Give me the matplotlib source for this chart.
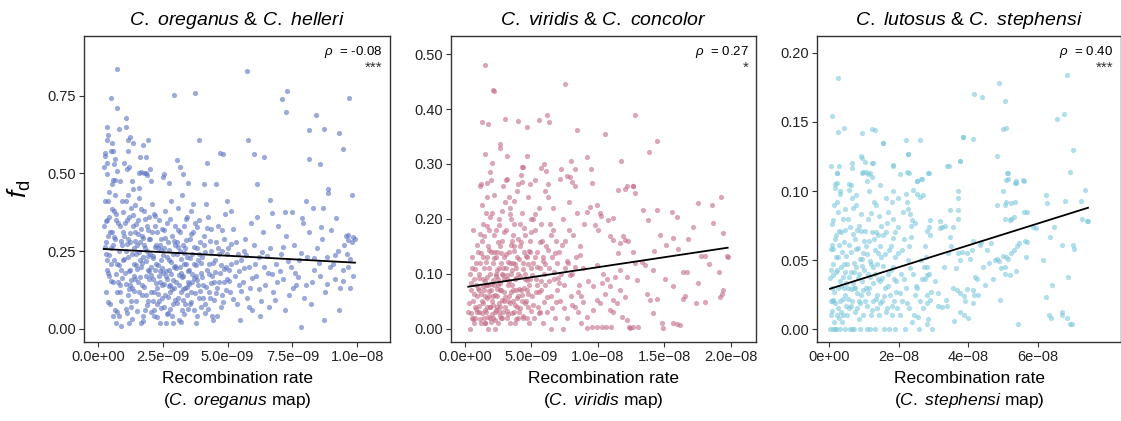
import matplotlib
matplotlib.use("Agg")
import matplotlib.pyplot as plt
import numpy as np

plt.rcParams['font.family'] = ['Liberation Sans', 'DejaVu Sans']
plt.rcParams['mathtext.fontset'] = 'custom'
plt.rcParams['mathtext.rm'] = 'Liberation Sans'
plt.rcParams['mathtext.it'] = 'Liberation Sans:italic'
plt.rcParams['mathtext.bf'] = 'Liberation Sans:bold'

# ---- panel 1: C. oreganus & C. helleri (x in 1e-9) ----
oreg_pts = [
    (0.73, 0.834), (5.75, 0.828), (0.52, 0.742), (2.95, 0.751), (3.75, 0.759), (7.30, 0.765),
    (7.10, 0.738), (9.69, 0.741), (0.73, 0.711), (7.25, 0.697), (1.08, 0.679), (8.42, 0.688),
    (0.36, 0.649), (1.08, 0.649), (0.82, 0.643), (8.13, 0.640), (8.73, 0.641), (9.28, 0.631),
    (0.40, 0.622), (1.24, 0.616), (1.16, 0.607), (0.37, 0.606), (1.94, 0.607), (1.37, 0.599),
    (3.89, 0.607), (5.80, 0.606), (0.55, 0.597), (1.76, 0.592), (9.44, 0.577), (0.50, 0.571),
    (0.60, 0.571), (1.16, 0.571), (0.29, 0.565), (4.71, 0.565), (4.81, 0.561), (6.03, 0.562),
    (6.39, 0.554), (1.64, 0.552), (1.85, 0.551), (0.29, 0.556), (0.67, 0.545), (8.13, 0.547),
    (3.05, 0.543), (4.22, 0.534), (0.35, 0.532), (1.00, 0.532), (8.56, 0.530), (0.63, 0.530),
    (1.21, 0.522), (0.23, 0.522), (3.17, 0.521), (1.13, 0.513), (2.01, 0.513), (0.76, 0.509),
    (1.60, 0.502), (1.67, 0.504), (1.80, 0.501), (0.36, 0.497), (1.86, 0.500), (1.90, 0.495),
    (2.57, 0.499), (2.53, 0.487), (3.30, 0.499), (0.57, 0.478), (0.66, 0.479), (0.85, 0.477),
    (1.32, 0.476), (2.06, 0.477), (2.75, 0.468), (3.47, 0.469), (4.11, 0.465), (4.55, 0.465),
    (6.12, 0.465), (8.88, 0.449), (9.78, 0.431), (8.88, 0.436), (8.02, 0.412), (6.64, 0.415),
    (4.97, 0.412), (8.30, 0.388), (8.67, 0.388), (9.17, 0.356), (7.86, 0.355), (7.20, 0.377),
    (7.50, 0.377), (6.70, 0.372), (8.59, 0.327), (9.65, 0.302), (9.85, 0.295), (9.50, 0.270),
    (9.65, 0.286), (9.00, 0.318),
    (0.25, 0.33), (0.30, 0.28), (0.35, 0.22), (0.40, 0.18), (0.28, 0.41), (0.45, 0.36),
    (0.50, 0.26), (0.55, 0.31), (0.60, 0.15), (0.33, 0.12), (0.42, 0.44), (0.48, 0.08),
    (0.58, 0.04), (0.52, 0.21), (0.38, 0.30), (0.62, 0.38), (0.30, 0.24), (0.45, 0.17),
    (0.57, 0.27), (0.36, 0.35), (0.65, 0.06), (0.70, 0.02), (0.75, 0.12), (0.80, 0.25),
    (0.85, 0.33), (0.90, 0.19), (0.95, 0.41), (0.68, 0.29), (0.72, 0.37), (0.78, 0.15),
    (0.88, 0.09), (0.92, 0.27), (0.98, 0.22), (0.66, 0.43), (0.82, 0.04), (0.96, 0.31),
    (0.74, 0.21), (0.86, 0.14), (0.70, 0.35), (0.90, 0.01),
    (1.02, 0.30), (1.05, 0.18), (1.10, 0.25), (1.15, 0.11), (1.20, 0.36), (1.25, 0.28),
    (1.30, 0.07), (1.35, 0.33), (1.40, 0.21), (1.45, 0.16), (1.08, 0.41), (1.12, 0.05),
    (1.18, 0.23), (1.22, 0.02), (1.28, 0.39), (1.32, 0.13), (1.38, 0.26), (1.42, 0.31),
    (1.48, 0.09), (1.04, 0.34), (1.16, 0.29), (1.26, 0.19), (1.36, 0.45), (1.46, 0.24),
    (1.24, 0.14),
    (1.52, 0.27), (1.55, 0.35), (1.60, 0.12), (1.65, 0.20), (1.70, 0.30), (1.75, 0.04),
    (1.80, 0.38), (1.85, 0.17), (1.90, 0.25), (1.95, 0.09), (1.58, 0.42), (1.62, 0.22),
    (1.68, 0.32), (1.72, 0.14), (1.78, 0.27), (1.82, 0.06), (1.88, 0.33), (1.92, 0.19),
    (1.98, 0.29), (1.54, 0.15), (1.66, 0.02), (1.76, 0.23), (1.86, 0.11), (1.96, 0.36),
    (1.64, 0.28),
    (2.02, 0.24), (2.05, 0.12), (2.10, 0.31), (2.15, 0.04), (2.20, 0.19), (2.25, 0.27),
    (2.30, 0.08), (2.35, 0.35), (2.40, 0.15), (2.45, 0.22), (2.08, 0.40), (2.12, 0.16),
    (2.18, 0.06), (2.22, 0.33), (2.28, 0.13), (2.32, 0.26), (2.38, 0.02), (2.42, 0.29),
    (2.48, 0.10), (2.04, 0.20), (2.16, 0.37), (2.26, 0.21), (2.36, 0.17), (2.46, 0.32),
    (2.14, 0.09),
    (2.52, 0.18), (2.55, 0.26), (2.60, 0.11), (2.65, 0.34), (2.70, 0.05), (2.75, 0.22),
    (2.80, 0.14), (2.85, 0.30), (2.90, 0.08), (2.95, 0.20), (2.58, 0.38), (2.62, 0.02),
    (2.68, 0.16), (2.72, 0.28), (2.78, 0.12), (2.82, 0.41), (2.88, 0.24), (2.92, 0.13),
    (2.98, 0.33), (2.54, 0.07), (2.66, 0.23), (2.76, 0.19), (2.86, 0.04), (2.96, 0.27),
    (3.02, 0.15), (3.05, 0.24), (3.10, 0.10), (3.15, 0.31), (3.20, 0.18), (3.25, 0.06),
    (3.30, 0.27), (3.35, 0.13), (3.40, 0.21), (3.45, 0.36), (3.08, 0.39), (3.12, 0.03),
    (3.18, 0.25), (3.22, 0.12), (3.28, 0.17), (3.32, 0.33), (3.38, 0.08), (3.42, 0.23),
    (3.48, 0.15), (3.04, 0.28), (3.16, 0.20), (3.26, 0.43), (3.36, 0.26),
    (3.52, 0.19), (3.55, 0.29), (3.60, 0.12), (3.65, 0.24), (3.70, 0.06), (3.75, 0.34),
    (3.80, 0.17), (3.85, 0.22), (3.90, 0.10), (3.95, 0.28), (3.58, 0.38), (3.62, 0.15),
    (3.68, 0.31), (3.72, 0.21), (3.78, 0.02), (3.82, 0.26), (3.88, 0.14), (3.92, 0.35),
    (3.98, 0.18), (3.56, 0.08), (3.66, 0.40),
    (4.02, 0.23), (4.05, 0.14), (4.10, 0.30), (4.15, 0.08), (4.20, 0.19), (4.25, 0.36),
    (4.30, 0.12), (4.35, 0.25), (4.40, 0.17), (4.45, 0.03), (4.08, 0.27), (4.18, 0.40),
    (4.28, 0.21), (4.38, 0.32), (4.48, 0.15), (4.12, 0.05), (4.32, 0.10),
    (4.52, 0.22), (4.55, 0.28), (4.60, 0.13), (4.65, 0.33), (4.70, 0.18), (4.75, 0.07),
    (4.80, 0.25), (4.85, 0.15), (4.90, 0.37), (4.95, 0.20), (4.58, 0.04), (4.68, 0.24),
    (4.78, 0.11), (4.88, 0.29), (4.98, 0.16),
    (5.02, 0.26), (5.08, 0.12), (5.15, 0.21), (5.20, 0.32), (5.28, 0.17), (5.35, 0.08),
    (5.40, 0.24), (5.45, 0.14), (5.12, 0.38), (5.32, 0.28), (5.48, 0.03), (5.05, 0.19),
    (5.52, 0.22), (5.60, 0.15), (5.68, 0.29), (5.75, 0.10), (5.82, 0.20), (5.90, 0.34),
    (5.95, 0.06), (5.65, 0.25), (5.85, 0.13),
    (6.02, 0.27), (6.10, 0.17), (6.20, 0.23), (6.30, 0.09), (6.38, 0.31), (6.45, 0.14),
    (6.15, 0.36), (6.25, 0.04), (6.42, 0.20),
    (6.55, 0.18), (6.65, 0.26), (6.75, 0.12), (6.85, 0.21), (6.95, 0.33), (6.60, 0.07),
    (6.90, 0.15), (7.05, 0.24), (7.15, 0.16), (7.25, 0.30), (7.35, 0.11), (7.45, 0.20),
    (7.20, 0.06), (7.55, 0.27), (7.65, 0.14), (7.75, 0.22), (7.85, 0.005), (7.90, 0.34),
    (7.60, 0.18), (7.95, 0.10), (8.05, 0.23), (8.15, 0.31), (8.25, 0.15), (8.35, 0.19),
    (8.45, 0.26), (8.20, 0.08), (8.55, 0.17), (8.65, 0.29), (8.75, 0.12), (8.85, 0.23),
    (8.95, 0.20), (8.70, 0.03), (9.05, 0.21), (9.15, 0.16), (9.25, 0.25), (9.35, 0.13),
    (9.45, 0.19), (9.30, 0.06), (9.55, 0.30), (9.60, 0.24), (9.70, 0.13), (9.78, 0.28),
    (9.85, 0.17), (9.65, 0.20), (9.91, 0.29),
]
oreg_dense = [
    (0.27, 0.263), (0.31, 0.347), (0.34, 0.191), (0.39, 0.087), (0.43, 0.238), (0.47, 0.312),
    (0.51, 0.154), (0.56, 0.386), (0.61, 0.223), (0.64, 0.297), (0.69, 0.178), (0.73, 0.054),
    (0.77, 0.341), (0.81, 0.207), (0.84, 0.118), (0.89, 0.284), (0.93, 0.163), (0.97, 0.376),
    (0.41, 0.412), (0.53, 0.467),
    (1.03, 0.226), (1.07, 0.143), (1.11, 0.351), (1.14, 0.274), (1.19, 0.187), (1.23, 0.308),
    (1.27, 0.091), (1.31, 0.242), (1.34, 0.367), (1.39, 0.171), (1.43, 0.283), (1.47, 0.204),
    (1.09, 0.064), (1.21, 0.127), (1.33, 0.033), (1.44, 0.398), (1.17, 0.431), (1.29, 0.156),
    (1.41, 0.121), (1.49, 0.338),
    (1.51, 0.193), (1.56, 0.306), (1.59, 0.247), (1.63, 0.168), (1.67, 0.384), (1.71, 0.213),
    (1.74, 0.292), (1.79, 0.134), (1.83, 0.259), (1.87, 0.217), (1.91, 0.078), (1.94, 0.318),
    (1.97, 0.162), (1.53, 0.057), (1.69, 0.108), (1.81, 0.353), (1.93, 0.234), (1.57, 0.452),
    (1.73, 0.026), (1.99, 0.186),
    (2.03, 0.288), (2.07, 0.173), (2.11, 0.236), (2.17, 0.119), (2.21, 0.264), (2.24, 0.147),
    (2.29, 0.313), (2.33, 0.206), (2.37, 0.089), (2.41, 0.187), (2.44, 0.253), (2.47, 0.141),
    (2.06, 0.054), (2.19, 0.364), (2.27, 0.037), (2.39, 0.271), (2.49, 0.196), (2.13, 0.228),
    (2.34, 0.113), (2.43, 0.066),
    (2.51, 0.237), (2.56, 0.146), (2.61, 0.291), (2.64, 0.187), (2.69, 0.102), (2.73, 0.253),
    (2.77, 0.064), (2.81, 0.178), (2.84, 0.216), (2.89, 0.157), (2.93, 0.283), (2.97, 0.094),
    (2.57, 0.317), (2.67, 0.047), (2.79, 0.352), (2.87, 0.128), (2.99, 0.201), (2.63, 0.169),
    (2.74, 0.137), (2.91, 0.018),
    (3.03, 0.197), (3.07, 0.083), (3.11, 0.262), (3.14, 0.141), (3.19, 0.226), (3.23, 0.167),
    (3.27, 0.094), (3.31, 0.208), (3.34, 0.048), (3.39, 0.287), (3.43, 0.134), (3.47, 0.186),
    (3.09, 0.318), (3.21, 0.021), (3.33, 0.243), (3.44, 0.109), (3.13, 0.172), (3.29, 0.129),
    (3.41, 0.353), (3.49, 0.064),
    (3.53, 0.143), (3.57, 0.227), (3.61, 0.088), (3.64, 0.178), (3.69, 0.262), (3.73, 0.117),
    (3.77, 0.204), (3.81, 0.043), (3.84, 0.156), (3.89, 0.241), (3.93, 0.123), (3.97, 0.071),
    (3.59, 0.306), (3.71, 0.163), (3.83, 0.329), (3.96, 0.211),
    (4.03, 0.168), (4.07, 0.098), (4.13, 0.247), (4.17, 0.134), (4.23, 0.063), (4.27, 0.176),
    (4.33, 0.284), (4.37, 0.147), (4.43, 0.213), (4.47, 0.092), (4.22, 0.326), (4.41, 0.043),
    (4.53, 0.183), (4.57, 0.114), (4.63, 0.261), (4.67, 0.152), (4.73, 0.207), (4.77, 0.318),
    (4.83, 0.087), (4.87, 0.193), (4.93, 0.126), (4.97, 0.241),
    (5.04, 0.153), (5.13, 0.273), (5.23, 0.096), (5.33, 0.214), (5.43, 0.186), (5.53, 0.122),
    (5.63, 0.196), (5.73, 0.237), (5.83, 0.071), (5.93, 0.164),
    (6.04, 0.208), (6.23, 0.128), (6.33, 0.247), (6.53, 0.233), (6.73, 0.178), (6.83, 0.094),
    (7.03, 0.187), (7.13, 0.262), (7.33, 0.218), (7.53, 0.132), (7.73, 0.167), (7.83, 0.243),
    (8.03, 0.142), (8.33, 0.227), (8.53, 0.212), (8.83, 0.146), (9.13, 0.237), (9.43, 0.153),
    (9.73, 0.224),
]

# ---- panel 2: C. viridis & C. concolor (x in 1e-9) ----
viri_pts = [
    (1.53, 0.480), (2.13, 0.434), (2.16, 0.433), (7.50, 0.445), (1.28, 0.376), (1.75, 0.372),
    (3.01, 0.381), (3.96, 0.379), (4.68, 0.368), (5.56, 0.380), (6.17, 0.390), (6.29, 0.376),
    (12.78, 0.390), (8.40, 0.361), (10.55, 0.355), (14.41, 0.341), (2.63, 0.336), (2.60, 0.329),
    (13.86, 0.322), (1.48, 0.318), (3.16, 0.314), (4.66, 0.315), (9.17, 0.313), (2.05, 0.302),
    (7.99, 0.306), (11.73, 0.306), (4.28, 0.295), (4.36, 0.294), (5.96, 0.300), (5.74, 0.293),
    (6.11, 0.287), (8.27, 0.290), (9.50, 0.290), (1.88, 0.285), (3.14, 0.272), (7.65, 0.278),
    (7.89, 0.276), (7.17, 0.273), (8.05, 0.268), (1.23, 0.264), (1.65, 0.266), (3.98, 0.264),
    (4.26, 0.267), (4.86, 0.264), (6.24, 0.264), (9.55, 0.265), (12.60, 0.260),
    (19.22, 0.240), (18.55, 0.225), (17.54, 0.229), (17.12, 0.186), (18.67, 0.193), (19.42, 0.175),
    (19.72, 0.132), (18.04, 0.132), (17.74, 0.132), (18.37, 0.117), (19.12, 0.104), (16.37, 0.104),
    (16.67, 0.104), (17.54, 0.083), (19.37, 0.070), (19.30, 0.064), (19.17, 0.058), (18.04, 0.049),
    (17.37, 0.047), (16.42, 0.055), (16.54, 0.060), (16.79, 0.163), (15.99, 0.146), (15.09, 0.152),
    (15.66, 0.165), (15.54, 0.213), (15.96, 0.203), (14.46, 0.216), (13.41, 0.216), (12.66, 0.259),
    (12.20, 0.259), (12.78, 0.247), (13.78, 0.198), (14.66, 0.171), (14.21, 0.142), (12.66, 0.140),
    (13.28, 0.122), (15.66, 0.077), (15.04, 0.090), (14.16, 0.107), (13.53, 0.116), (12.16, 0.095),
    (12.78, 0.119), (12.91, 0.089), (13.66, 0.064), (13.91, 0.052), (14.41, 0.055), (14.85, 0.010),
    (14.92, 0.001), (15.66, 0.010), (15.91, 0.008), (16.20, 0.007), (12.30, 0.003), (12.66, 0.004),
    (13.03, 0.003), (12.42, 0.002), (14.16, 0.028), (11.80, 0.022), (12.20, 0.016), (11.15, 0.031),
    (10.90, 0.034), (10.60, 0.003), (10.97, 0.003), (10.28, 0.003), (9.90, 0.003), (9.52, 0.003),
    (9.15, 0.002), (11.65, 0.070), (12.03, 0.058), (11.40, 0.046), (11.15, 0.052), (10.90, 0.077),
    (10.50, 0.064), (11.28, 0.095), (11.65, 0.107), (11.53, 0.137), (11.15, 0.162), (11.65, 0.156),
    (12.03, 0.162), (12.28, 0.159), (11.90, 0.168), (10.90, 0.168), (10.78, 0.198), (11.15, 0.201),
    (11.53, 0.253), (12.03, 0.254), (10.00, 0.180), (9.77, 0.189), (10.15, 0.210), (10.20, 0.206),
    (9.90, 0.225), (9.15, 0.213), (9.40, 0.221), (10.40, 0.100), (10.65, 0.090), (9.90, 0.116),
    (10.28, 0.083), (9.65, 0.077), (9.27, 0.086), (9.90, 0.052), (10.15, 0.046), (9.65, 0.034),
    (9.15, 0.022), (8.52, 0.031),
    (0.35, 0.00), (0.50, 0.02), (0.60, 0.05), (0.70, 0.09), (0.80, 0.12), (0.90, 0.03),
    (0.45, 0.07), (0.55, 0.11), (0.65, 0.01), (0.75, 0.04), (0.85, 0.08), (0.95, 0.14),
    (0.60, 0.18), (0.90, 0.06), (0.40, 0.10), (0.78, 0.02),
    (1.02, 0.03), (1.08, 0.07), (1.15, 0.12), (1.20, 0.01), (1.25, 0.05), (1.30, 0.16),
    (1.35, 0.09), (1.40, 0.02), (1.45, 0.11), (1.50, 0.06), (1.55, 0.21), (1.60, 0.03),
    (1.65, 0.13), (1.70, 0.08), (1.75, 0.00), (1.80, 0.18), (1.85, 0.04), (1.90, 0.10),
    (1.95, 0.14), (1.12, 0.26), (1.38, 0.13), (1.48, 0.01), (1.58, 0.08), (1.68, 0.04),
    (1.78, 0.11), (1.88, 0.02), (1.98, 0.07), (1.32, 0.19), (1.62, 0.24), (1.72, 0.15),
    (1.05, 0.10), (1.82, 0.06), (1.92, 0.27), (1.52, 0.01), (1.42, 0.07),
    (2.02, 0.05), (2.08, 0.12), (2.12, 0.02), (2.18, 0.08), (2.22, 0.17), (2.28, 0.03),
    (2.32, 0.10), (2.38, 0.06), (2.42, 0.14), (2.48, 0.01), (2.52, 0.09), (2.58, 0.20),
    (2.62, 0.04), (2.68, 0.12), (2.72, 0.07), (2.78, 0.16), (2.82, 0.02), (2.88, 0.11),
    (2.92, 0.05), (2.98, 0.23), (2.05, 0.21), (2.15, 0.14), (2.25, 0.00), (2.35, 0.18),
    (2.45, 0.08), (2.55, 0.03), (2.65, 0.15), (2.75, 0.10), (2.85, 0.26), (2.95, 0.09),
    (2.10, 0.06), (2.40, 0.04), (2.70, 0.02), (2.30, 0.13), (2.60, 0.07), (2.90, 0.13),
    (3.02, 0.04), (3.08, 0.11), (3.12, 0.18), (3.18, 0.02), (3.22, 0.08), (3.28, 0.14),
    (3.32, 0.06), (3.38, 0.22), (3.42, 0.01), (3.48, 0.10), (3.52, 0.16), (3.58, 0.05),
    (3.62, 0.12), (3.68, 0.03), (3.72, 0.19), (3.78, 0.09), (3.82, 0.07), (3.88, 0.13),
    (3.92, 0.25), (3.98, 0.02), (3.05, 0.27), (3.15, 0.09), (3.25, 0.05), (3.35, 0.12),
    (3.45, 0.20), (3.55, 0.08), (3.65, 0.15), (3.75, 0.01), (3.85, 0.11), (3.95, 0.06),
    (3.30, 0.24), (3.60, 0.17), (3.90, 0.04),
    (4.02, 0.10), (4.08, 0.03), (4.15, 0.15), (4.20, 0.07), (4.28, 0.21), (4.35, 0.12),
    (4.40, 0.02), (4.48, 0.09), (4.52, 0.17), (4.60, 0.05), (4.65, 0.13), (4.72, 0.24),
    (4.80, 0.08), (4.85, 0.01), (4.92, 0.14), (4.98, 0.11), (4.12, 0.19), (4.32, 0.05),
    (4.55, 0.10), (4.75, 0.04), (4.95, 0.20), (4.25, 0.28), (4.45, 0.14), (4.68, 0.07),
    (4.88, 0.16),
    (5.02, 0.06), (5.10, 0.12), (5.18, 0.02), (5.25, 0.18), (5.32, 0.09), (5.40, 0.14),
    (5.48, 0.04), (5.55, 0.22), (5.62, 0.11), (5.70, 0.07), (5.78, 0.16), (5.85, 0.01),
    (5.92, 0.10), (5.98, 0.25), (5.15, 0.20), (5.45, 0.08), (5.65, 0.03), (5.88, 0.13),
    (5.30, 0.27), (5.75, 0.19),
    (6.05, 0.08), (6.12, 0.15), (6.20, 0.03), (6.30, 0.11), (6.38, 0.19), (6.45, 0.06),
    (6.55, 0.13), (6.62, 0.22), (6.70, 0.09), (6.78, 0.02), (6.85, 0.16), (6.95, 0.12),
    (6.25, 0.24), (6.50, 0.00), (6.90, 0.07), (6.60, 0.18),
    (7.05, 0.14), (7.15, 0.05), (7.25, 0.10), (7.35, 0.20), (7.45, 0.08), (7.55, 0.16),
    (7.65, 0.02), (7.75, 0.12), (7.85, 0.23), (7.95, 0.06), (7.20, 0.29), (7.50, 0.11),
    (7.80, 0.18), (7.40, 0.00),
    (8.05, 0.10), (8.15, 0.17), (8.25, 0.04), (8.35, 0.13), (8.45, 0.21), (8.55, 0.08),
    (8.65, 0.15), (8.75, 0.01), (8.85, 0.11), (8.95, 0.19), (8.30, 0.26), (8.70, 0.06),
    (0.25, 0.03), (19.75, 0.13),
]
viri_dense = [
    (0.32, 0.046), (0.42, 0.083), (0.52, 0.131), (0.57, 0.017), (0.67, 0.063), (0.72, 0.108),
    (0.83, 0.036), (0.88, 0.152), (0.97, 0.074), (0.47, 0.028),
    (1.04, 0.041), (1.09, 0.093), (1.13, 0.018), (1.18, 0.064), (1.22, 0.137), (1.27, 0.029),
    (1.33, 0.077), (1.37, 0.047), (1.43, 0.168), (1.47, 0.087), (1.53, 0.034), (1.57, 0.121),
    (1.63, 0.056), (1.67, 0.094), (1.73, 0.022), (1.77, 0.069), (1.83, 0.143), (1.87, 0.039),
    (1.93, 0.082), (1.97, 0.013), (1.28, 0.226), (1.64, 0.187), (1.14, 0.173), (1.86, 0.204),
    (2.03, 0.027), (2.07, 0.088), (2.13, 0.043), (2.17, 0.129), (2.23, 0.061), (2.27, 0.016),
    (2.33, 0.096), (2.37, 0.034), (2.43, 0.072), (2.47, 0.157), (2.53, 0.047), (2.57, 0.111),
    (2.63, 0.023), (2.67, 0.083), (2.73, 0.138), (2.77, 0.052), (2.83, 0.097), (2.87, 0.031),
    (2.93, 0.176), (2.97, 0.066), (2.21, 0.243), (2.56, 0.188), (2.81, 0.214), (2.41, 0.107),
    (3.03, 0.058), (3.07, 0.136), (3.13, 0.033), (3.17, 0.097), (3.23, 0.122), (3.27, 0.026),
    (3.33, 0.087), (3.37, 0.047), (3.43, 0.153), (3.47, 0.067), (3.53, 0.028), (3.57, 0.106),
    (3.63, 0.071), (3.67, 0.141), (3.73, 0.043), (3.77, 0.118), (3.83, 0.018), (3.87, 0.092),
    (3.93, 0.056), (3.97, 0.163), (3.41, 0.209), (3.71, 0.233),
    (4.03, 0.072), (4.07, 0.127), (4.13, 0.037), (4.17, 0.096), (4.23, 0.158), (4.27, 0.061),
    (4.33, 0.023), (4.37, 0.108), (4.43, 0.074), (4.47, 0.183), (4.53, 0.046), (4.57, 0.132),
    (4.63, 0.088), (4.67, 0.019), (4.73, 0.117), (4.77, 0.063), (4.83, 0.142), (4.87, 0.091),
    (4.93, 0.033), (4.97, 0.176),
    (5.04, 0.097), (5.13, 0.043), (5.23, 0.131), (5.33, 0.066), (5.43, 0.112), (5.53, 0.029),
    (5.63, 0.158), (5.73, 0.087), (5.83, 0.123), (5.93, 0.048), (5.27, 0.208), (5.58, 0.067),
    (6.03, 0.117), (6.15, 0.057), (6.27, 0.143), (6.35, 0.086), (6.47, 0.171), (6.57, 0.038),
    (6.67, 0.104), (6.77, 0.137), (6.87, 0.049), (6.97, 0.093),
    (7.07, 0.083), (7.27, 0.152), (7.47, 0.037), (7.67, 0.123), (7.87, 0.097), (8.07, 0.043),
    (8.27, 0.112), (8.47, 0.067), (8.67, 0.134), (8.87, 0.048),
]

# ---- panel 3: C. lutosus & C. stephensi (x in 1e-8) ----
lutos_pts = [
    (0.26, 0.182), (0.08, 0.154), (0.43, 0.146), (0.26, 0.143), (0.94, 0.142), (1.23, 0.145),
    (1.32, 0.144), (1.54, 0.135), (2.21, 0.137), (2.61, 0.137), (2.25, 0.127), (3.84, 0.139),
    (4.12, 0.138), (4.16, 0.170), (4.40, 0.168), (4.87, 0.178), (5.04, 0.165), (5.00, 0.145),
    (5.07, 0.146), (4.83, 0.125), (6.55, 0.152), (6.76, 0.156), (6.83, 0.184), (7.02, 0.130),
    (6.91, 0.114), (0.92, 0.125), (0.94, 0.124), (1.04, 0.121), (1.24, 0.120), (0.05, 0.118),
    (0.65, 0.117), (1.84, 0.119), (3.39, 0.118), (3.77, 0.122), (0.23, 0.113), (0.95, 0.113),
    (1.06, 0.114), (1.10, 0.112), (1.24, 0.110), (2.03, 0.112), (2.30, 0.113), (2.87, 0.113),
    (2.51, 0.107), (2.64, 0.109), (5.09, 0.108), (5.15, 0.113), (5.35, 0.106), (5.59, 0.107),
    (0.17, 0.105), (0.56, 0.105), (0.61, 0.104), (1.07, 0.107), (1.46, 0.104),
    (7.36, 0.101), (7.23, 0.093), (6.78, 0.093), (6.24, 0.097), (6.27, 0.091), (5.60, 0.085),
    (5.34, 0.092), (5.22, 0.091), (5.08, 0.092), (5.06, 0.090), (4.82, 0.090), (5.10, 0.113),
    (5.15, 0.109), (5.36, 0.107), (5.38, 0.106), (5.58, 0.108), (5.01, 0.100), (7.26, 0.080),
    (7.40, 0.078), (6.45, 0.074), (5.87, 0.074), (5.94, 0.073), (5.68, 0.085), (5.22, 0.080),
    (5.30, 0.081), (5.06, 0.080), (5.20, 0.079), (7.05, 0.058), (7.00, 0.061), (6.69, 0.061),
    (6.35, 0.067), (6.14, 0.050), (5.63, 0.064), (5.68, 0.063), (5.47, 0.062), (5.39, 0.060),
    (5.22, 0.055), (5.31, 0.057), (5.66, 0.052), (5.00, 0.053), (5.07, 0.052), (5.15, 0.051),
    (4.82, 0.051), (4.77, 0.050), (4.87, 0.049), (4.35, 0.063), (4.34, 0.061), (4.10, 0.057),
    (4.14, 0.064), (4.64, 0.062), (4.53, 0.057), (4.58, 0.048), (4.43, 0.045), (4.94, 0.044),
    (5.06, 0.045), (5.20, 0.039), (5.06, 0.040), (5.37, 0.042), (4.72, 0.036), (4.48, 0.032),
    (4.91, 0.021), (6.40, 0.032), (6.24, 0.023), (6.70, 0.012), (6.68, 0.010), (6.32, 0.010),
    (6.38, 0.008), (6.83, 0.008), (6.93, 0.004), (6.97, 0.004), (5.44, 0.004), (6.86, 0.038),
    (4.14, 0.028), (4.29, 0.025), (3.95, 0.029), (4.16, 0.025), (3.76, 0.012), (3.86, 0.010),
    (4.00, 0.008), (4.14, 0.019), (4.19, 0.038), (4.25, 0.036), (3.76, 0.026), (3.86, 0.024),
    (3.66, 0.028), (4.05, 0.051), (3.76, 0.050), (3.95, 0.055), (3.38, 0.017), (3.23, 0.016),
    (3.14, 0.017), (3.42, 0.055), (3.71, 0.055), (3.81, 0.056), (3.47, 0.067), (3.57, 0.074),
    (3.23, 0.074), (3.33, 0.075), (3.71, 0.080), (3.71, 0.086), (3.47, 0.086), (3.43, 0.118),
    (3.76, 0.122), (3.84, 0.139), (3.71, 0.100), (3.71, 0.095), (3.17, 0.073), (3.18, 0.078),
    (2.90, 0.079), (2.88, 0.074), (2.80, 0.071), (2.90, 0.068), (2.80, 0.045), (2.82, 0.039),
    (2.75, 0.036), (2.90, 0.021), (2.80, 0.019), (2.85, 0.007), (2.80, 0.004), (2.69, 0.097),
    (2.51, 0.107), (2.66, 0.109), (2.85, 0.113), (2.23, 0.114), (2.27, 0.127), (1.84, 0.118),
    (2.42, 0.101), (2.51, 0.098), (2.61, 0.096), (2.20, 0.098), (2.23, 0.092), (2.27, 0.087),
    (2.37, 0.079), (2.47, 0.077), (2.32, 0.083), (1.84, 0.100), (1.98, 0.095), (1.79, 0.092),
    (1.55, 0.135), (1.27, 0.120), (1.17, 0.113), (0.98, 0.114), (0.29, 0.118), (0.64, 0.120),
    (0.21, 0.113), (0.21, 0.106), (0.16, 0.102), (0.31, 0.100), (0.12, 0.079), (0.07, 0.061),
    (0.02, 0.000), (0.05, 0.010), (0.08, 0.030), (0.10, 0.047), (0.12, 0.020), (0.15, 0.000),
    (0.18, 0.041), (0.20, 0.068), (0.22, 0.010), (0.25, 0.030), (0.28, 0.061), (0.30, 0.000),
    (0.32, 0.020), (0.35, 0.045), (0.38, 0.010), (0.40, 0.080), (0.42, 0.030), (0.45, 0.000),
    (0.48, 0.053), (0.06, 0.058), (0.14, 0.090), (0.24, 0.015), (0.34, 0.070), (0.44, 0.025),
    (0.10, 0.000), (0.30, 0.035), (0.04, 0.020), (0.20, 0.000), (0.36, 0.005), (0.46, 0.041),
    (0.16, 0.065), (0.26, 0.085), (0.12, 0.039),
    (0.52, 0.010), (0.55, 0.030), (0.58, 0.061), (0.60, 0.000), (0.62, 0.041), (0.65, 0.020),
    (0.68, 0.069), (0.70, 0.048), (0.72, 0.000), (0.75, 0.030), (0.78, 0.090), (0.80, 0.015),
    (0.82, 0.059), (0.85, 0.040), (0.88, 0.000), (0.90, 0.071), (0.92, 0.025), (0.95, 0.051),
    (0.98, 0.010), (0.54, 0.080), (0.64, 0.095), (0.74, 0.065), (0.84, 0.020), (0.94, 0.035),
    (0.66, 0.000), (0.76, 0.045), (0.86, 0.075), (0.96, 0.055), (0.58, 0.015), (0.70, 0.030),
    (1.02, 0.020), (1.05, 0.060), (1.08, 0.000), (1.10, 0.040), (1.12, 0.080), (1.15, 0.030),
    (1.18, 0.049), (1.20, 0.010), (1.22, 0.070), (1.25, 0.020), (1.28, 0.065), (1.30, 0.000),
    (1.32, 0.040), (1.35, 0.090), (1.38, 0.025), (1.40, 0.055), (1.42, 0.010), (1.45, 0.035),
    (1.48, 0.075), (1.06, 0.030), (1.16, 0.000), (1.26, 0.045), (1.36, 0.015), (1.46, 0.060),
    (1.14, 0.100), (1.34, 0.070),
    (1.52, 0.020), (1.55, 0.046), (1.58, 0.000), (1.60, 0.030), (1.62, 0.070), (1.65, 0.015),
    (1.68, 0.040), (1.70, 0.085), (1.72, 0.000), (1.75, 0.025), (1.78, 0.060), (1.80, 0.010),
    (1.82, 0.045), (1.85, 0.020), (1.88, 0.070), (1.90, 0.000), (1.92, 0.035), (1.95, 0.015),
    (1.98, 0.055), (1.64, 0.095), (1.84, 0.080),
    (2.02, 0.010), (2.06, 0.040), (2.10, 0.020), (2.14, 0.065), (2.18, 0.000), (2.22, 0.030),
    (2.26, 0.050), (2.30, 0.015), (2.34, 0.075), (2.38, 0.005), (2.42, 0.040), (2.46, 0.025),
    (2.12, 0.085), (2.28, 0.060), (2.44, 0.010),
    (2.52, 0.030), (2.58, 0.000), (2.64, 0.050), (2.70, 0.015), (2.76, 0.060), (2.82, 0.025),
    (2.88, 0.040), (2.95, 0.000), (2.60, 0.020), (2.72, 0.045),
    (3.05, 0.035), (3.30, 0.045), (3.55, 0.030), (3.60, 0.006), (3.90, 0.020), (3.50, 0.060),
    (7.44, 0.078),
]
lutos_dense = [
    (0.03, 0.037), (0.07, 0.013), (0.11, 0.058), (0.13, 0.027), (0.17, 0.019), (0.19, 0.052),
    (0.23, 0.043), (0.27, 0.008), (0.29, 0.071), (0.33, 0.031), (0.37, 0.056), (0.39, 0.022),
    (0.41, 0.047), (0.43, 0.063), (0.47, 0.017), (0.49, 0.033), (0.09, 0.076), (0.21, 0.092),
    (0.31, 0.098), (0.44, 0.087), (0.06, 0.043), (0.14, 0.005), (0.26, 0.052), (0.38, 0.038),
    (0.46, 0.072), (0.11, 0.021), (0.33, 0.012),
    (0.51, 0.047), (0.53, 0.022), (0.57, 0.038), (0.59, 0.074), (0.61, 0.017), (0.63, 0.056),
    (0.67, 0.033), (0.69, 0.088), (0.71, 0.041), (0.73, 0.012), (0.77, 0.058), (0.79, 0.026),
    (0.81, 0.072), (0.83, 0.037), (0.87, 0.051), (0.89, 0.019), (0.91, 0.083), (0.93, 0.046),
    (0.97, 0.028), (0.99, 0.064), (0.56, 0.101), (0.76, 0.097), (0.86, 0.007), (0.62, 0.029),
    (1.01, 0.043), (1.03, 0.071), (1.07, 0.017), (1.09, 0.054), (1.11, 0.026), (1.13, 0.064),
    (1.17, 0.038), (1.19, 0.084), (1.21, 0.047), (1.23, 0.014), (1.27, 0.033), (1.29, 0.092),
    (1.31, 0.057), (1.33, 0.022), (1.37, 0.047), (1.39, 0.068), (1.41, 0.036), (1.43, 0.082),
    (1.47, 0.019), (1.49, 0.052),
    (1.51, 0.037), (1.54, 0.068), (1.57, 0.024), (1.61, 0.054), (1.63, 0.012), (1.67, 0.077),
    (1.69, 0.031), (1.73, 0.057), (1.77, 0.043), (1.79, 0.017), (1.83, 0.066), (1.87, 0.036),
    (1.89, 0.052), (1.93, 0.027), (1.97, 0.074),
    (2.04, 0.026), (2.08, 0.057), (2.16, 0.036), (2.24, 0.019), (2.32, 0.044), (2.36, 0.067),
    (2.48, 0.031), (2.54, 0.009), (2.66, 0.036), (2.78, 0.052), (2.92, 0.027), (3.12, 0.026),
    (3.35, 0.021), (3.65, 0.044),
]

# fitted lines (intercept, slope per x unit)
oreg_fit = (0.258, -0.00454)
viri_fit = (0.0756, 0.00364)
lutos_fit = (0.0290, 0.00791)

titles = [r'$\mathit{C.\ oreganus}$ & $\mathit{C.\ helleri}$',
          r'$\mathit{C.\ viridis}$ & $\mathit{C.\ concolor}$',
          r'$\mathit{C.\ lutosus}$ & $\mathit{C.\ stephensi}$']
map_labels = [r'($\mathit{C.\ oreganus}$ map)',
              r'($\mathit{C.\ viridis}$ map)',
              r'($\mathit{C.\ stephensi}$ map)']
rho_labels = ['-0.08', '0.27', '0.40']
sig_labels = ['***', '*', '***']

x_scales = [1e-9, 1e-9, 1e-8]
x_ticks = [[0, 2.5e-9, 5e-9, 7.5e-9, 1e-8],
           [0, 5e-9, 1e-8, 1.5e-8, 2e-8],
           [0, 2e-8, 4e-8, 6e-8]]
x_ticklabels = [['0.0e+00', '2.5e\u221209', '5.0e\u221209', '7.5e\u221209', '1.0e\u221208'],
                ['0.0e+00', '5.0e\u221209', '1.0e\u221208', '1.5e\u221208', '2.0e\u221208'],
                ['0e+00', '2e\u221208', '4e\u221208', '6e\u221208']]
y_ticks = [[0, 0.25, 0.5, 0.75],
           [0, 0.1, 0.2, 0.3, 0.4, 0.5],
           [0, 0.05, 0.1, 0.15, 0.2]]
x_lims = [(-0.53e-9, 11.26e-9), (-1.05e-9, 21.88e-9), (-0.354e-8, 8.39e-8)]
y_lims = [(-0.042, 0.9415), (-0.0242, 0.533), (-0.0094, 0.2123)]
colors = ['#5a72c2', '#c46b86', '#7cc8dc']

panels = [oreg_pts + oreg_dense, viri_pts + viri_dense, lutos_pts + lutos_dense]
fits = [oreg_fit, viri_fit, lutos_fit]

W, H = 1121, 421
fig = plt.figure(figsize=(W / 100, H / 100), dpi=100)
lefts = [84, 451, 817]
widths = [306, 305, 304]

for i in range(3):
    ax = fig.add_axes([lefts[i] / W, (H - 342) / H, widths[i] / W, 306 / H])
    pts = np.array(panels[i])
    x = pts[:, 0] * x_scales[i]
    y = pts[:, 1]
    ax.scatter(x, y, s=14, color=colors[i], alpha=0.6, linewidths=0, zorder=2)

    b0, b1 = fits[i]
    xl = np.array([pts[:, 0].min(), pts[:, 0].max()])
    ax.plot(xl * x_scales[i], b0 + b1 * xl, color='black', lw=1.3, zorder=3)

    ax.set_xlim(*x_lims[i])
    ax.set_ylim(*y_lims[i])
    ax.set_xticks(x_ticks[i])
    ax.set_xticklabels(x_ticklabels[i])
    ax.set_yticks(y_ticks[i])
    ax.set_yticklabels([f'{v:.2f}' for v in y_ticks[i]])
    ax.tick_params(axis='both', direction='out', length=3.5, width=0.8,
                   color='#333333', labelsize=10.5, labelcolor='#222222', pad=2.5)
    for sp in ax.spines.values():
        sp.set_color('#333333')
        sp.set_linewidth(1.0)

    ax.set_title(titles[i], fontsize=14, pad=8)
    ax.set_xlabel('Recombination rate\n' + map_labels[i], fontsize=12.5, labelpad=5,
                  linespacing=1.35)

    ax.text(0.975, 0.975, r'$\rho$  = ' + rho_labels[i], transform=ax.transAxes,
            ha='right', va='top', fontsize=9.5)
    ax.text(0.975, 0.92, sig_labels[i], transform=ax.transAxes,
            ha='right', va='top', fontsize=11, color='#333333')

    if i == 0:
        ax.set_ylabel(r'$\mathit{f}_{\mathrm{d}}$', fontsize=19, labelpad=10)

fig.savefig('out.png', dpi=100)
